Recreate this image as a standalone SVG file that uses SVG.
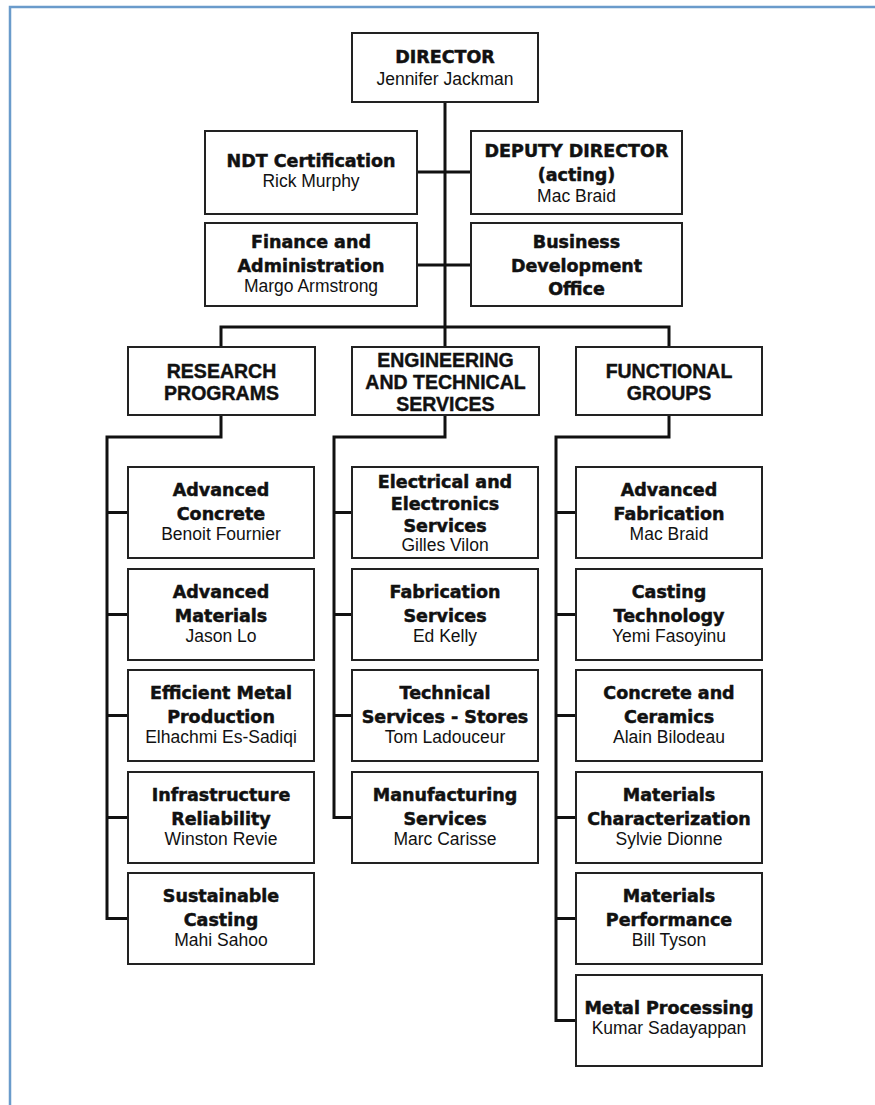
<svg xmlns="http://www.w3.org/2000/svg" width="875" height="1105" viewBox="0 0 875 1105">
<style>
.box{fill:#fff;stroke:#222;stroke-width:2}
.con{fill:none;stroke:#111;stroke-width:3;stroke-linejoin:miter}
.b{font-family:"DejaVu Sans",sans-serif;font-weight:bold;font-size:17.5px;fill:#111;stroke:#111;stroke-width:0.5;text-anchor:middle}
.n{font-family:"Liberation Sans",Arial,sans-serif;font-size:17.5px;fill:#111;text-anchor:middle}
.h{font-family:"Liberation Sans",Arial,sans-serif;font-weight:bold;font-size:19.5px;fill:#111;stroke:#111;stroke-width:0.4;text-anchor:middle}
</style>
<rect width="875" height="1105" fill="#fff"/>
<path d="M10,1105 V7 H875" fill="none" stroke="#6a9bcb" stroke-width="2.5"/>
<g id="connectors">
<path class="con" d="M445,102 V327"/>
<path class="con" d="M417,172 H471"/>
<path class="con" d="M417,265 H471"/>
<path class="con" d="M221,347 V327 H669 V347"/>
<path class="con" d="M445,327 V347"/>
<path class="con" d="M221,415 V437 H107 V918.5 H128"/>
<path class="con" d="M107,512.5 H128 M107,614.5 H128 M107,715.5 H128 M107,817.5 H128"/>
<path class="con" d="M445,415 V437 H334 V817.5 H352"/>
<path class="con" d="M334,512.5 H352 M334,614.5 H352 M334,715.5 H352"/>
<path class="con" d="M669,415 V437 H556 V1020.5 H576"/>
<path class="con" d="M556,512.5 H576 M556,614.5 H576 M556,715.5 H576 M556,817.5 H576 M556,918.5 H576"/>
</g>
<g id="director"><rect class="box" x="352" y="33" width="186" height="69"/><text class="b" x="445" y="63">DIRECTOR</text><text class="n" x="445" y="85">Jennifer Jackman</text></g>
<g id="ndt"><rect class="box" x="205" y="131" width="212" height="83"/><text class="b" x="311" y="167">NDT Certification</text><text class="n" x="311" y="187">Rick Murphy</text></g>
<g id="deputy"><rect class="box" x="471" y="131" width="211" height="83"/><text class="b" x="576.5" y="157">DEPUTY DIRECTOR</text><text class="b" x="576.5" y="181">(acting)</text><text class="n" x="576.5" y="202">Mac Braid</text></g>
<g id="finance"><rect class="box" x="205" y="223" width="212" height="83"/><text class="b" x="311" y="248">Finance and</text><text class="b" x="311" y="272">Administration</text><text class="n" x="311" y="292">Margo Armstrong</text></g>
<g id="business"><rect class="box" x="471" y="223" width="211" height="83"/><text class="b" x="576.5" y="248">Business</text><text class="b" x="576.5" y="271.5">Development</text><text class="b" x="576.5" y="295">Office</text></g>
<g id="research"><rect class="box" x="128" y="347" width="187" height="68"/><text class="h" x="221.5" y="378">RESEARCH</text><text class="h" x="221.5" y="400">PROGRAMS</text></g>
<g id="engineering"><rect class="box" x="352" y="347" width="187" height="68"/><text class="h" x="445.5" y="367">ENGINEERING</text><text class="h" x="445.5" y="389">AND TECHNICAL</text><text class="h" x="445.5" y="411">SERVICES</text></g>
<g id="functional"><rect class="box" x="576" y="347" width="186" height="68"/><text class="h" x="669" y="378">FUNCTIONAL</text><text class="h" x="669" y="400">GROUPS</text></g>
<g id="adv-concrete"><rect class="box" x="128" y="467" width="186" height="91"/><text class="b" x="221" y="496">Advanced</text><text class="b" x="221" y="520">Concrete</text><text class="n" x="221" y="540">Benoit Fournier</text></g>
<g id="adv-materials"><rect class="box" x="128" y="569" width="186" height="91"/><text class="b" x="221" y="598">Advanced</text><text class="b" x="221" y="622">Materials</text><text class="n" x="221" y="642">Jason Lo</text></g>
<g id="efficient-metal"><rect class="box" x="128" y="670" width="186" height="91"/><text class="b" x="221" y="699">Efficient Metal</text><text class="b" x="221" y="723">Production</text><text class="n" x="221" y="743">Elhachmi Es-Sadiqi</text></g>
<g id="infrastructure"><rect class="box" x="128" y="772" width="186" height="91"/><text class="b" x="221" y="801">Infrastructure</text><text class="b" x="221" y="825">Reliability</text><text class="n" x="221" y="845">Winston Revie</text></g>
<g id="sustainable"><rect class="box" x="128" y="873" width="186" height="91"/><text class="b" x="221" y="902">Sustainable</text><text class="b" x="221" y="926">Casting</text><text class="n" x="221" y="946">Mahi Sahoo</text></g>
<g id="electrical"><rect class="box" x="352" y="467" width="186" height="91"/><text class="b" x="445" y="488">Electrical and</text><text class="b" x="445" y="510">Electronics</text><text class="b" x="445" y="532">Services</text><text class="n" x="445" y="551">Gilles Vilon</text></g>
<g id="fabrication-services"><rect class="box" x="352" y="569" width="186" height="91"/><text class="b" x="445" y="598">Fabrication</text><text class="b" x="445" y="622">Services</text><text class="n" x="445" y="642">Ed Kelly</text></g>
<g id="technical-stores"><rect class="box" x="352" y="670" width="186" height="91"/><text class="b" x="445" y="699">Technical</text><text class="b" x="445" y="723">Services - Stores</text><text class="n" x="445" y="743">Tom Ladouceur</text></g>
<g id="manufacturing"><rect class="box" x="352" y="772" width="186" height="91"/><text class="b" x="445" y="801">Manufacturing</text><text class="b" x="445" y="825">Services</text><text class="n" x="445" y="845">Marc Carisse</text></g>
<g id="adv-fabrication"><rect class="box" x="576" y="467" width="186" height="91"/><text class="b" x="669" y="496">Advanced</text><text class="b" x="669" y="520">Fabrication</text><text class="n" x="669" y="540">Mac Braid</text></g>
<g id="casting-tech"><rect class="box" x="576" y="569" width="186" height="91"/><text class="b" x="669" y="598">Casting</text><text class="b" x="669" y="622">Technology</text><text class="n" x="669" y="642">Yemi Fasoyinu</text></g>
<g id="concrete-ceramics"><rect class="box" x="576" y="670" width="186" height="91"/><text class="b" x="669" y="699">Concrete and</text><text class="b" x="669" y="723">Ceramics</text><text class="n" x="669" y="743">Alain Bilodeau</text></g>
<g id="materials-char"><rect class="box" x="576" y="772" width="186" height="91"/><text class="b" x="669" y="801">Materials</text><text class="b" x="669" y="825">Characterization</text><text class="n" x="669" y="845">Sylvie Dionne</text></g>
<g id="materials-perf"><rect class="box" x="576" y="873" width="186" height="91"/><text class="b" x="669" y="902">Materials</text><text class="b" x="669" y="926">Performance</text><text class="n" x="669" y="946">Bill Tyson</text></g>
<g id="metal-processing"><rect class="box" x="576" y="975" width="186" height="91"/><text class="b" x="669" y="1014">Metal Processing</text><text class="n" x="669" y="1034">Kumar Sadayappan</text></g>
</svg>
